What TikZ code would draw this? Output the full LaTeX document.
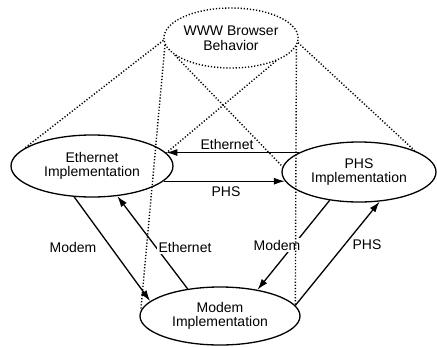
\documentclass[tikz,border=0pt]{standalone}
\usepackage{fontspec}
\setmainfont{Liberation Sans}
\usetikzlibrary{shapes.geometric,arrows.meta}
\begin{document}
\begin{tikzpicture}[x=1pt,y=-1pt,
  ell/.style={ellipse,draw,line width=1.3pt,inner sep=0pt,align=center,font=\fontsize{14}{14.5}\selectfont},
  lbl/.style={font=\fontsize{14}{14.5}\selectfont,inner sep=1.5pt},
  wlbl/.style={lbl,fill=white},
  arr/.style={line width=1.3pt,-{Latex[length=11pt,width=7pt]}},
  dots/.style={line width=1.4pt,dash pattern=on 1.2pt off 1.9pt}]
\useasboundingbox (0,0) rectangle (437,346);
\node[ell,dots,minimum width=118pt,minimum height=60pt] (www) at (231,38) {WWW Browser\\Behavior};
\node[ell,minimum width=162pt,minimum height=62pt] (eth) at (92,166) {Ethernet\\Implementation};
\node[ell,minimum width=154pt,minimum height=60pt] (phs) at (359,172) {PHS\\Implementation};
\node[ell,minimum width=160pt,minimum height=58pt] (mod) at (220,316) {Modem\\Implementation};
% solid arrows
\draw[arr] (phs.162) -- (phs.162 -| eth.10);
\draw[arr] (eth.348) -- (eth.348 -| phs.187);
\draw[arr] (eth.240) -- (mod.168);
\draw[arr] (mod.140) -- (eth.310);
\draw[arr] (phs.224) -- (mod.35);
\draw[arr] (mod.8) -- (phs.305);
% labels
\node[lbl] (l1) at (227,144) {Ethernet};
\node[lbl] (l2) at (226,192) {PHS};
\node[lbl] (l3) at (73,247) {Modem};
\node[wlbl] (l4) at (185,247) {Ethernet};
\node[wlbl] (l5) at (277,245) {Modem};
\node[lbl] (l6) at (367,245) {PHS};
% dotted lines
\draw[dots] (www.182) -- (eth.165);
\draw[dots] (www.356) -- (phs.21);
\draw[dots] (www.186) -- (mod.176);
\draw[dots] (www.353) -- (mod.8);
\draw[dots] (www.197) -- (phs.176);
\draw[dots] (www.333) -- (eth.10);
\end{tikzpicture}
\end{document}
